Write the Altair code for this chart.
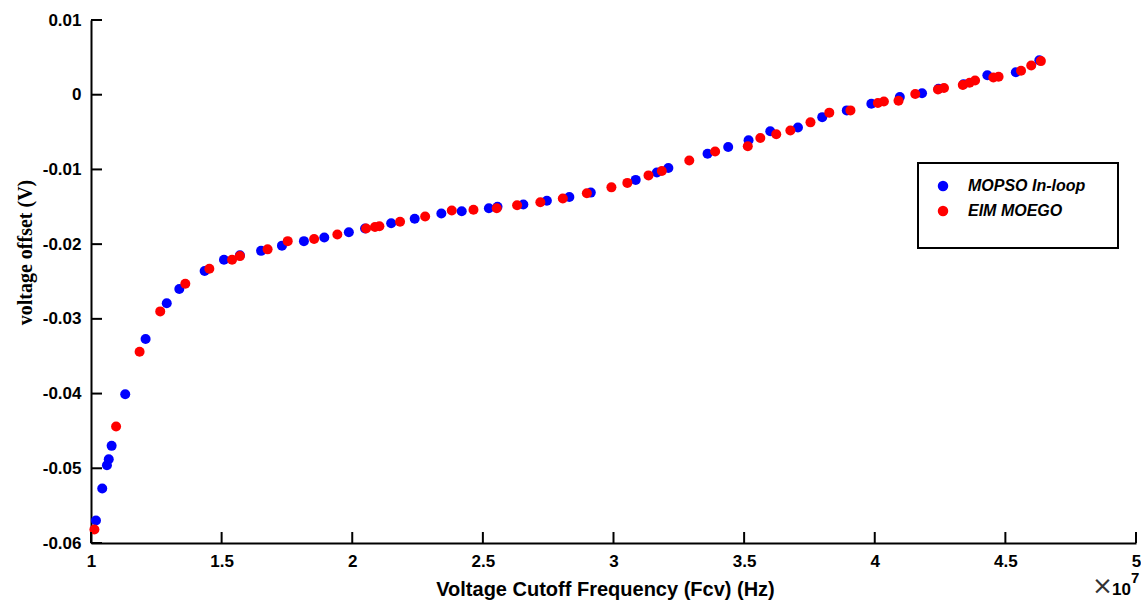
import altair as alt
import pandas as pd

# ---- data (x in units of 1e7 Hz, y in V) ----
mopso_x = [1.019, 1.043, 1.061, 1.068, 1.079, 1.131, 1.209, 1.290, 1.338, 1.435,
           1.509, 1.570, 1.651, 1.731, 1.815, 1.893, 1.987, 2.049, 2.149, 2.239,
           2.341, 2.419, 2.523, 2.556, 2.655, 2.745, 2.831, 2.913, 3.085, 3.166,
           3.210, 3.360, 3.439, 3.517, 3.600, 3.706, 3.799, 3.893, 3.987, 4.096,
           4.181, 4.244, 4.340, 4.431, 4.540, 4.630]
mopso_y = [-0.0570, -0.0527, -0.0496, -0.0488, -0.0470, -0.0401, -0.0327, -0.0279, -0.0260, -0.0236,
           -0.0221, -0.0215, -0.0209, -0.0202, -0.0196, -0.0191, -0.0184, -0.0179, -0.0172, -0.0166,
           -0.0159, -0.0156, -0.0152, -0.0150, -0.0147, -0.0142, -0.0137, -0.0131, -0.0114, -0.0104,
           -0.0098, -0.0079, -0.0070, -0.0061, -0.0049, -0.0044, -0.0030, -0.0021, -0.0012, -0.0003,
           0.0002, 0.0008, 0.0014, 0.0026, 0.0030, 0.0046]

eim_x = [1.013, 1.096, 1.186, 1.265, 1.361, 1.453, 1.540, 1.570, 1.676, 1.753,
         1.854, 1.943, 2.053, 2.087, 2.104, 2.183, 2.279, 2.381, 2.464, 2.553,
         2.631, 2.720, 2.806, 2.898, 2.992, 3.053, 3.134, 3.185, 3.290, 3.389,
         3.514, 3.562, 3.623, 3.677, 3.754, 3.826, 3.907, 4.012, 4.035, 4.091,
         4.155, 4.242, 4.265, 4.337, 4.363, 4.384, 4.454, 4.474, 4.560, 4.599,
         4.636]
eim_y = [-0.0582, -0.0444, -0.0344, -0.0290, -0.0253, -0.0233, -0.0221, -0.0216, -0.0207, -0.0196,
         -0.0193, -0.0187, -0.0179, -0.0177, -0.0176, -0.0170, -0.0163, -0.0155, -0.0154, -0.0152,
         -0.0148, -0.0144, -0.0139, -0.0132, -0.0124, -0.0118, -0.0108, -0.0102, -0.0088, -0.0076,
         -0.0069, -0.0058, -0.0053, -0.0048, -0.0037, -0.0024, -0.0021, -0.0011, -0.0009, -0.0008,
         0.0001, 0.0007, 0.0009, 0.0013, 0.0016, 0.0019, 0.0023, 0.0024, 0.0032, 0.0039,
         0.0045]

series_names = ["MOPSO In-loop", "EIM MOEGO"]
series_colors = ["#0000FF", "#FF0000"]
x_ticks = [1, 1.5, 2, 2.5, 3, 3.5, 4, 4.5, 5]
y_ticks = [0.01, 0, -0.01, -0.02, -0.03, -0.04, -0.05, -0.06]

df = pd.concat([
    pd.DataFrame({"freq": mopso_x, "offset": mopso_y, "series": series_names[0]}),
    pd.DataFrame({"freq": eim_x, "offset": eim_y, "series": series_names[1]}),
], ignore_index=True)
df["order"] = range(len(df))

W, H = 1045, 523
xscale = alt.Scale(domain=[1, 5], nice=False, zero=False)
yscale = alt.Scale(domain=[-0.06, 0.01], nice=False, zero=False)

xaxis = alt.Axis(values=x_ticks, format=".1~f", grid=False, ticks=False, labelFlush=False,
                 title="Voltage Cutoff Frequency (Fcv) (Hz)",
                 labelPadding=10, titlePadding=10, titleX=514)
yaxis = alt.Axis(values=y_ticks, grid=False, ticks=False, labelFlush=False,
                 labelExpr="datum.value < 0 ? '-' + format(-datum.value, '.2~f') : format(datum.value, '.2~f')",
                 title="voltage offset (V)", titleFont="Liberation Serif",
                 titleFontSize=20, labelPadding=10, titlePadding=7, titleY=232)

points = alt.Chart(df).mark_circle(size=100, opacity=1).encode(
    x=alt.X("freq:Q", scale=xscale, axis=xaxis),
    y=alt.Y("offset:Q", scale=yscale, axis=yaxis),
    color=alt.Color("series:N",
                    scale=alt.Scale(domain=series_names, range=series_colors),
                    legend=alt.Legend(orient="none", legendX=844, legendY=158, title=None)),
    order=alt.Order("order:Q"),
)

xt = alt.Chart(pd.DataFrame({"freq": x_ticks})).mark_rule(color="black", strokeWidth=2).encode(
    x=alt.X("freq:Q", scale=xscale, axis=xaxis),
    y=alt.value(H), y2=alt.value(H - 11),
)
yt = alt.Chart(pd.DataFrame({"offset": y_ticks})).mark_rule(color="black", strokeWidth=2).encode(
    y=alt.Y("offset:Q", scale=yscale, axis=yaxis),
    x=alt.value(0), x2=alt.value(11),
)

note = pd.DataFrame({"t": ["×"]})
legend_box = alt.Chart(note).mark_rect(fill="white", stroke="black", strokeWidth=2).encode(
    x=alt.value(827), x2=alt.value(1027), y=alt.value(143), y2=alt.value(228))
times = alt.Chart(note).mark_text(text="×", fontSize=25, font="DejaVu Sans", fontWeight="normal",
                                  color="#333333", align="left", baseline="alphabetic").encode(
    x=alt.value(1001), y=alt.value(574))
ten = alt.Chart(note).mark_text(text="10", fontSize=17, fontWeight="bold", font="Liberation Sans",
                                color="black", align="left", baseline="alphabetic").encode(
    x=alt.value(1021), y=alt.value(575))
seven = alt.Chart(note).mark_text(text="7", fontSize=15, fontWeight="bold", font="Liberation Sans",
                                  color="black", align="left", baseline="alphabetic").encode(
    x=alt.value(1040), y=alt.value(563))

chart = alt.layer(points, xt, yt, legend_box, times, ten, seven).properties(
    width=W, height=H,
    autosize=alt.AutoSizeParams(type="none"),
    padding={"left": 91, "top": 20, "right": 5, "bottom": 60},
    background="white",
).configure_view(stroke=None).configure_axis(
    domainColor="black", domainWidth=2,
    labelFont="Liberation Sans", labelFontSize=17, labelFontWeight="bold", labelColor="black",
    titleFont="Liberation Sans", titleFontSize=20, titleFontWeight="bold", titleColor="black",
).configure_legend(
    padding=0,
    symbolType="circle", symbolSize=110, symbolStrokeWidth=0, symbolOpacity=1,
    labelFont="Liberation Sans", labelFontSize=16, labelFontStyle="italic",
    labelFontWeight="bold", labelColor="black", labelOffset=17, rowPadding=9,
    labelLimit=300,
)

chart.save("out.html", embed_options={"renderer": "svg", "actions": False})
